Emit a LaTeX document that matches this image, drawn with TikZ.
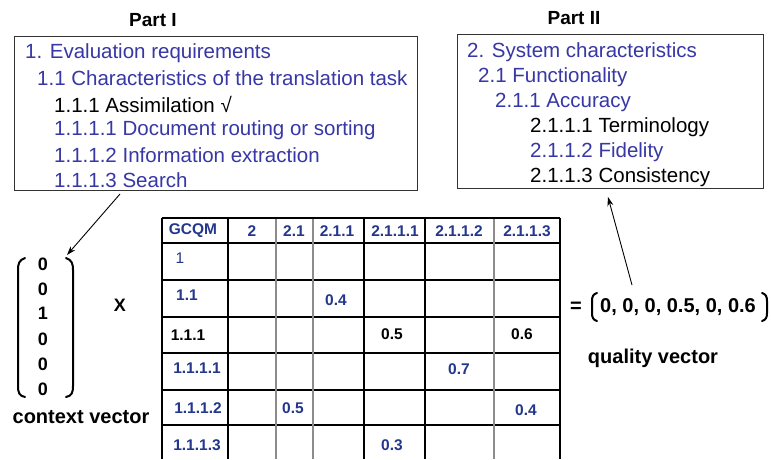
\documentclass[tikz,border=0pt]{standalone}
\usepackage{fontspec}
\setmainfont{Liberation Sans}
\usetikzlibrary{arrows.meta}
\definecolor{boxblue}{RGB}{55,55,165}
\definecolor{tblue}{RGB}{35,55,140}
\begin{document}
\begin{tikzpicture}[x=1pt,y=-1pt,
  boxline/.style={draw=black!80, line width=1.2pt, anchor=north west, inner sep=0},
  item/.style={anchor=west, inner sep=0, font=\fontsize{20.5}{24}\selectfont},
  ptitle/.style={inner sep=0, font=\bfseries\fontsize{19}{22}\selectfont},
  hdr/.style={inner sep=0, text=tblue, font=\bfseries\fontsize{15.5}{18}\selectfont},
  hdrk/.style={hdr, text=black},
  big/.style={inner sep=0, font=\bfseries\fontsize{20}{24}\selectfont},
  vnum/.style={inner sep=0, font=\bfseries\fontsize{18}{20}\selectfont},
  gridline/.style={line width=1.4pt},
  greyline/.style={line width=1.4pt, draw=black!45},
  arr/.style={-{Stealth[length=9pt,width=6pt]}, line width=0.9pt},
  brk/.style={line width=2pt, line cap=round}]
\useasboundingbox (0,0) rectangle (771,459);
\fill[white] (0,0) rectangle (771,459);

% Part I
\node[ptitle] (t1) at (153,20) {Part I};
\node[boxline, minimum width=403pt, minimum height=154pt] (box1) at (14,36) {};
\node[item, text=boxblue] (p1a) at (25,53) {1. Evaluation requirements};
\node[item, text=boxblue] (p1b) at (37,78) {1.1 Characteristics of the translation task};
\node[item, text=black]   (p1c) at (54,104) {1.1.1 Assimilation √};
\node[item, text=boxblue] (p1d) at (54,130) {1.1.1.1 Document routing or sorting};
\node[item, text=boxblue] (p1e) at (54,155) {1.1.1.2 Information extraction};
\node[item, text=boxblue] (p1f) at (54,180) {1.1.1.3 Search};

% Part II
\node[ptitle] (t2) at (574,18) {Part II};
\node[boxline, minimum width=306pt, minimum height=154pt] (box2) at (457,34) {};
\node[item, text=boxblue] (p2a) at (467,52) {2. System characteristics};
\node[item, text=boxblue] (p2b) at (478,77) {2.1 Functionality};
\node[item, text=boxblue] (p2c) at (495,102) {2.1.1 Accuracy};
\node[item, text=black]   (p2d) at (530,127) {2.1.1.1 Terminology};
\node[item, text=boxblue] (p2e) at (530,152) {2.1.1.2 Fidelity};
\node[item, text=black]   (p2f) at (530,177) {2.1.1.3 Consistency};

% context vector
\draw[brk] (25,258) .. controls (19,260) and (18,264) .. (18,270) -- (18,386) .. controls (18,392) and (19,396) .. (25,397);
\draw[brk] (66,258) .. controls (72,260) and (73,264) .. (73,270) -- (73,386) .. controls (73,392) and (72,396) .. (66,397);
\coordinate (cvtop) at (67,255);
\node[vnum] (c1) at (43,264) {0};
\node[vnum] (c2) at (43,289) {0};
\node[vnum] (c3) at (43,313) {1};
\node[vnum] (c4) at (43,339) {0};
\node[vnum] (c5) at (43,364) {0};
\node[vnum] (c6) at (43,389) {0};
\node[inner sep=0, font=\bfseries\fontsize{18}{20}\selectfont] (times) at (120,305) {X};
\node[big] (cvlab) at (81,417) {context vector};

% arrows
\coordinate (a1s) at (120,194);
\draw[arr] (a1s) -- (cvtop);
\coordinate (a2s) at (632,285);
\coordinate (a2e) at (608,197);
\draw[arr] (a2s) -- (a2e);

% table grid
\foreach \y in {218,243,280,317,353,390,425}
  \draw[gridline] (162,\y) -- (560,\y);
\foreach \x in {162,228,364,425,560}
  \draw[gridline] (\x,218) -- (\x,459);
\foreach \x in {276,313,494}
  \draw[greyline] (\x,218.7) -- (\x,459);

% header
\node[hdr] (hg) at (193,231) {GCQM};
\node[hdr] (h2) at (252,231) {2};
\node[hdr] (h21) at (294,231) {2.1};
\node[hdr] (h211) at (337,231) {2.1.1};
\node[hdr] (h2111) at (395,231) {2.1.1.1};
\node[hdr] (h2112) at (459,231) {2.1.1.2};
\node[hdr] (h2113) at (527,231) {2.1.1.3};

% row labels
\node[inner sep=0, text=tblue, font=\fontsize{15.5}{18}\selectfont] (r1) at (180,258) {1};
\node[hdr] (r11) at (187,295) {1.1};
\node[hdrk] (r111) at (188,335) {1.1.1};
\node[hdr] (r1111) at (197,368) {1.1.1.1};
\node[hdr] (r1112) at (198,408) {1.1.1.2};
\node[hdr] (r1113) at (197,445) {1.1.1.3};

% values
\node[hdr] (v1) at (336,300) {0.4};
\node[hdrk] (v2) at (392,334) {0.5};
\node[hdrk] (v3) at (522,334) {0.6};
\node[hdr] (v4) at (459,369) {0.7};
\node[hdr] (v5) at (293,408) {0.5};
\node[hdr] (v6) at (526,410) {0.4};
\node[hdr] (v7) at (392,445) {0.3};

% quality vector
\node[big] (eq) at (576,307) {=};
\draw[brk] (597,293) .. controls (593,294) and (592,297) .. (592,301) -- (592,313) .. controls (592,317) and (593,320) .. (597,321);
\draw[brk] (762,293) .. controls (766,294) and (767,297) .. (767,301) -- (767,313) .. controls (767,317) and (766,320) .. (762,321);
\node[big] (qv) at (678,307) {0, 0, 0, 0.5, 0, 0.6};
\node[big] (qvlab) at (653,358) {quality vector};
\end{tikzpicture}
\end{document}
